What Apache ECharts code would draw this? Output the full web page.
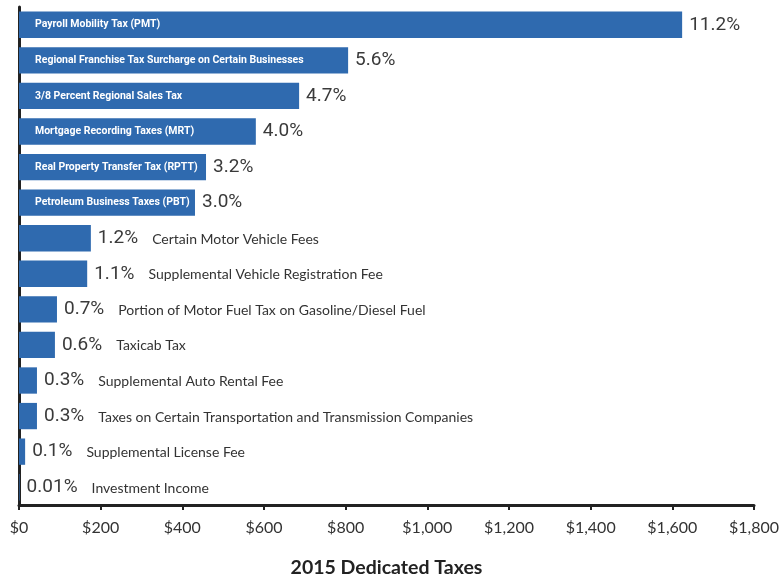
<!DOCTYPE html>
<html>
<head>
<meta charset="utf-8">
<script src="https://cdn.jsdelivr.net/npm/echarts@6/dist/echarts.min.js"></script>
<style>
  html, body { margin: 0; padding: 0; background: #fff; }
  #main { width: 783px; height: 577px; }
</style>
</head>
<body>
<div id="main"></div>
<script>
var categories = [
  "Payroll Mobility Tax (PMT)",
  "Regional Franchise Tax Surcharge on Certain Businesses",
  "3/8 Percent Regional Sales Tax",
  "Mortgage Recording Taxes (MRT)",
  "Real Property Transfer Tax (RPTT)",
  "Petroleum Business Taxes (PBT)",
  "Certain Motor Vehicle Fees",
  "Supplemental Vehicle Registration Fee",
  "Portion of Motor Fuel Tax on Gasoline/Diesel Fuel",
  "Taxicab Tax",
  "Supplemental Auto Rental Fee",
  "Taxes on Certain Transportation and Transmission Companies",
  "Supplemental License Fee",
  "Investment Income"
];
var amounts = [1624, 806, 686, 580, 458, 431, 176, 167, 93, 88, 44, 44, 15, 1.5];
var shares = ["11.2%", "5.6%", "4.7%", "4.0%", "3.2%", "3.0%", "1.2%", "1.1%", "0.7%", "0.6%", "0.3%", "0.3%", "0.1%", "0.01%"];
var tickLabels = ["$0", "$200", "$400", "$600", "$800", "$1,000", "$1,200", "$1,400", "$1,600", "$1,800"];

var chart = echarts.init(document.getElementById("main"));
var barColor = "#2f6aaf";
var insideMin = 300; // bars long enough to carry their name inside

var option = {
  animation: false,
  grid: { left: 19, right: 29, top: 7, bottom: 72, containLabel: false, outerBoundsMode: "none" },
  xAxis: {
    type: "value",
    min: 0,
    max: 1800,
    interval: 200,
    name: "2015 Dedicated Taxes",
    nameLocation: "middle",
    nameGap: 53,
    nameTextStyle: { fontFamily: "Lato", fontWeight: "bold", fontSize: 19.5, color: "#222" },
    axisLine: { show: true, lineStyle: { color: "#222", width: 3 } },
    axisTick: { show: true, length: 5, lineStyle: { color: "#222", width: 2 } },
    splitLine: { show: false },
    axisLabel: {
      fontFamily: "Lato",
      fontSize: 16,
      color: "#333",
      margin: 15,
      formatter: function (v) { return tickLabels[v / 200]; }
    }
  },
  yAxis: {
    type: "category",
    inverse: true,
    data: categories,
    axisLine: { show: true, lineStyle: { color: "#222", width: 3 } },
    axisTick: { show: false },
    axisLabel: { show: false }
  },
  series: [
    {
      type: "bar",
      barWidth: "74%",
      itemStyle: { color: barColor },
      data: amounts,
      label: {
        show: true,
        position: "right",
        distance: 7,
        formatter: function (p) {
          var i = p.dataIndex;
          if (amounts[i] > insideMin) return "{p|" + shares[i] + "}";
          return "{p|" + shares[i] + "}{n|" + categories[i] + "}";
        },
        rich: {
          p: { fontFamily: "Roboto", fontSize: 19, color: "#3a3a3a" },
          n: { fontFamily: "Lato", fontSize: 14, color: "#333", padding: [2, 0, 0, 14] }
        }
      }
    },
    {
      type: "bar",
      barWidth: "74%",
      barGap: "-100%",
      silent: true,
      itemStyle: { color: "transparent" },
      data: amounts,
      label: {
        show: true,
        position: "insideLeft",
        distance: 16,
        fontFamily: "Roboto",
        fontWeight: "bold",
        fontSize: 10.5,
        color: "#fff",
        formatter: function (p) {
          return amounts[p.dataIndex] > insideMin ? categories[p.dataIndex] : "";
        }
      }
    }
  ]
};
chart.setOption(option);
</script>
</body>
</html>
